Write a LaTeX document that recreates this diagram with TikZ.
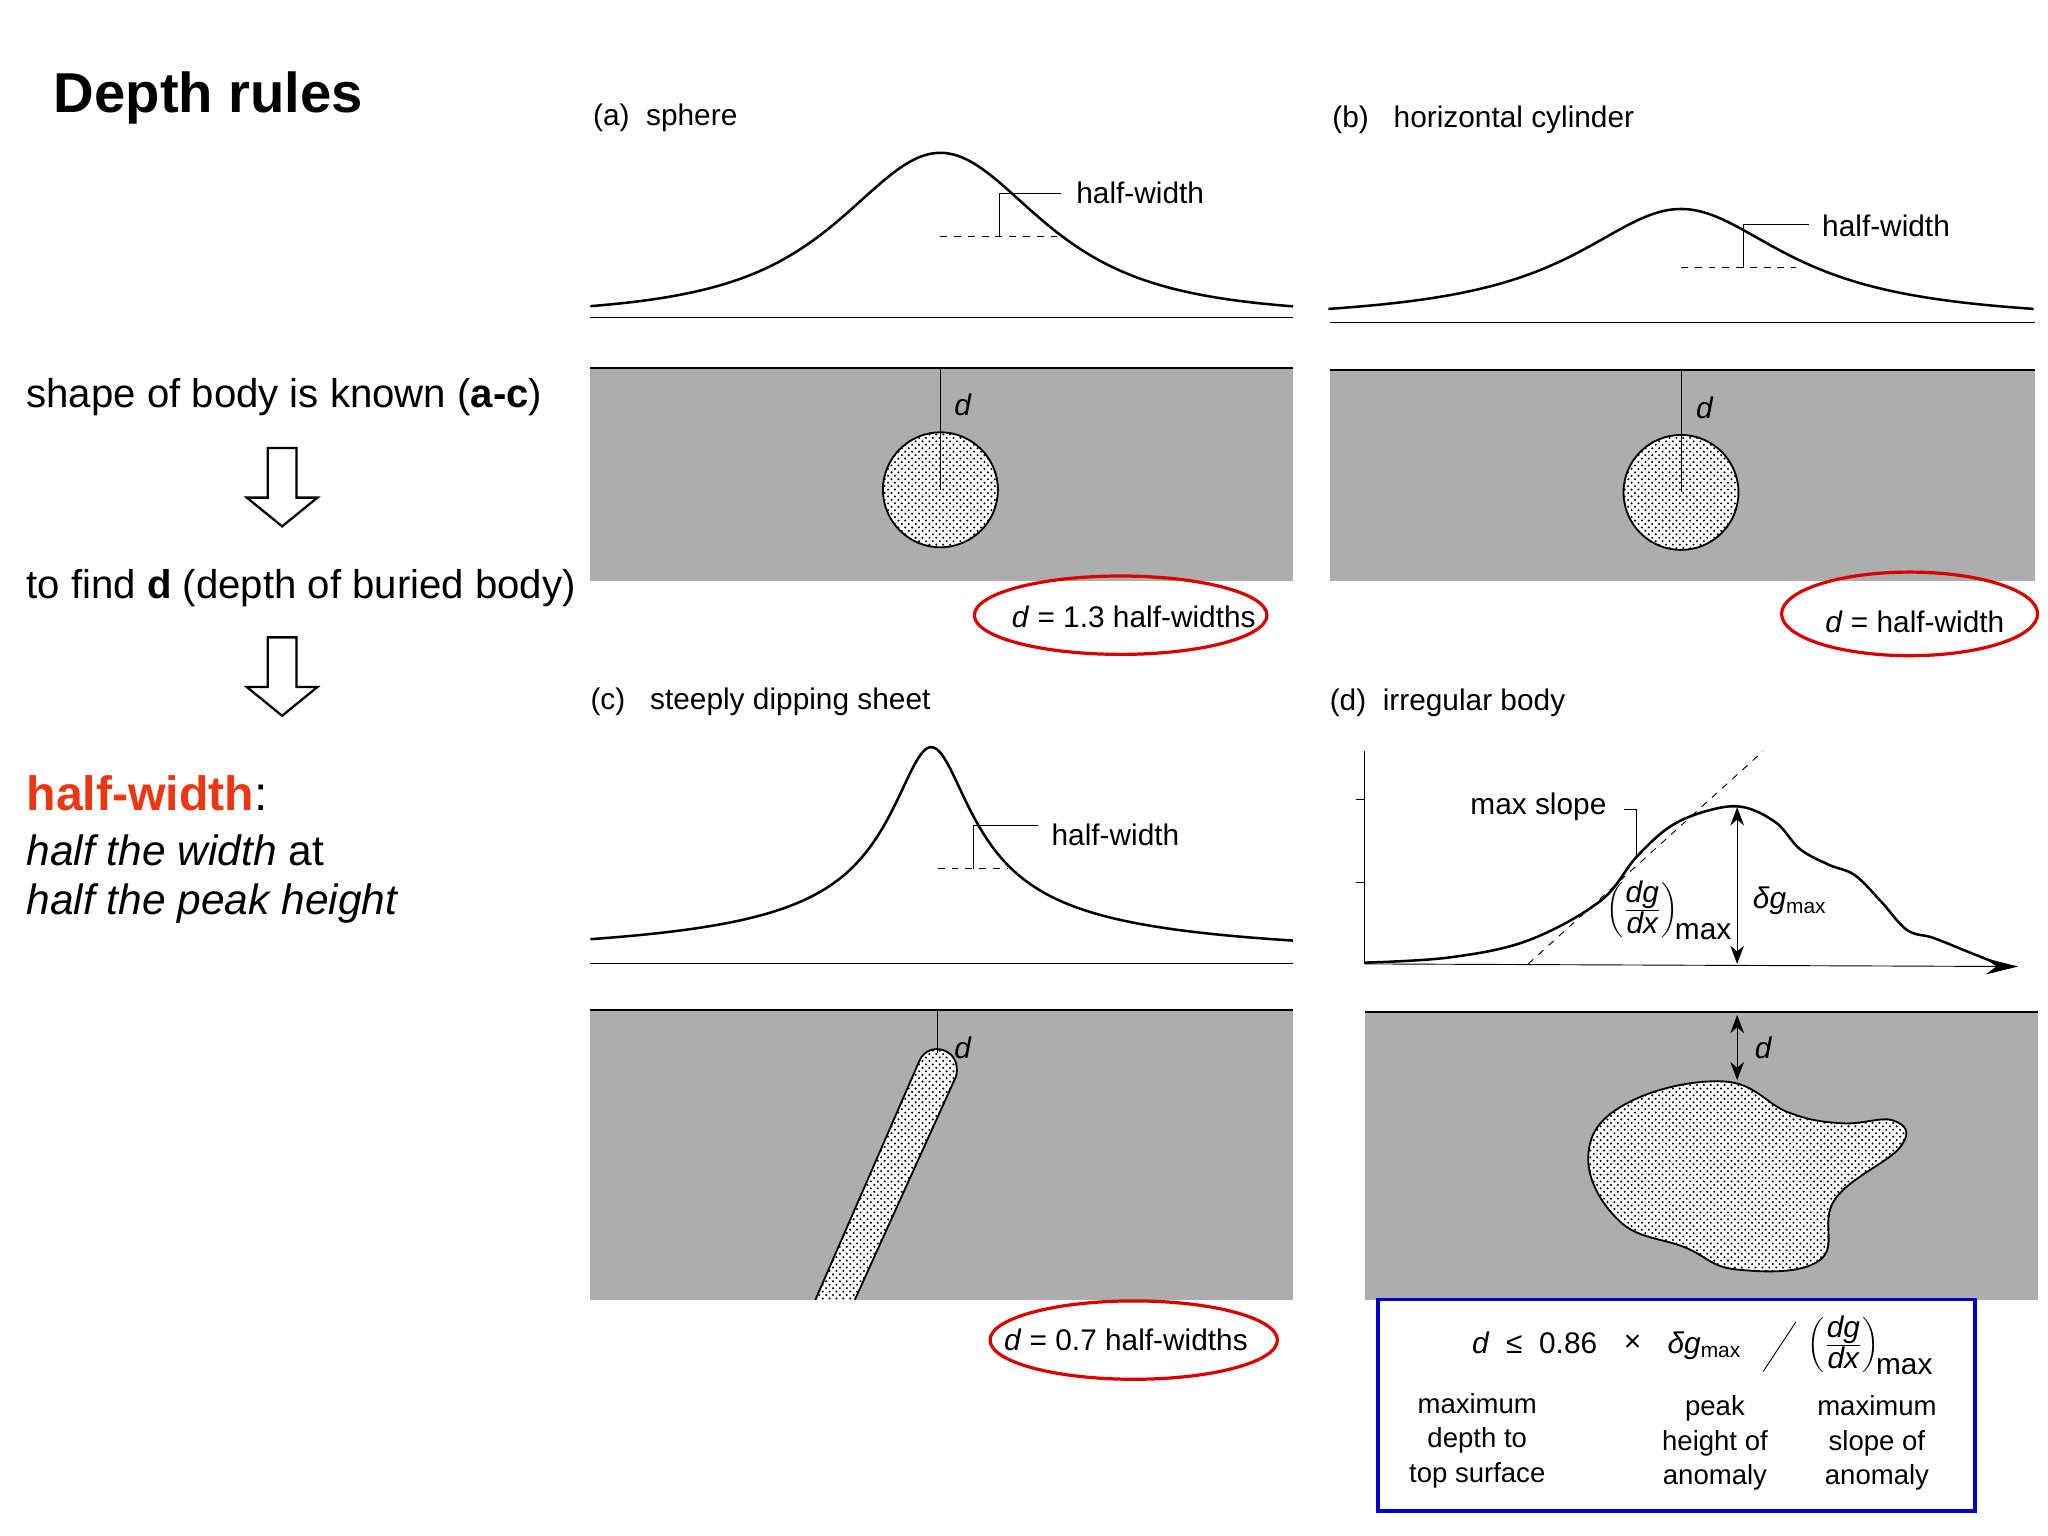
\documentclass[tikz,border=0pt]{standalone}
\usepackage{fontspec}
\setmainfont{Liberation Sans}
\usetikzlibrary{patterns,arrows.meta}
\definecolor{hwred}{RGB}{235,55,20}
\newcommand{\dgdx}{\ensuremath{\left(\frac{\textit{dg}}{\textit{dx}}\right)_{\!\textrm{max}}}}
\begin{document}
\begin{tikzpicture}[x=0.02cm,y=-0.02cm,
  lbl/.style={font=\fontsize{13}{15}\selectfont,inner sep=1pt},
  side/.style={font=\fontsize{17.5}{20}\selectfont,anchor=west,inner sep=0pt},
  ground/.style={fill=black!32,draw=none},
  body/.style={draw,thick,fill=white,postaction={pattern=crosshatch dots}},
  redell/.style={draw=red!85!black,line width=1.4pt},
  curve/.style={line width=1.1pt},
  hollow/.style={draw,line width=1pt,fill=white}]
\useasboundingbox (0,0) rectangle (1568,1176);
% left text
\node[anchor=west,font=\bfseries\fontsize{24.5}{28}\selectfont] (title) at (35,75) {Depth rules};
\node[side] (t1) at (20,304) {shape of body is known (\textbf{a-c})};
\node[side] (t2) at (20,450) {to find \textbf{d} (depth of buried body)};
\node[side,text=hwred,font=\bfseries\fontsize{21}{24}\selectfont] (t3) at (20,607) {half-width\textcolor{black}{\mdseries:}};
\node[side,font=\itshape\fontsize{18.5}{20}\selectfont] (t4) at (20,651) {half the width \textup{at}};
\node[side,font=\itshape\fontsize{18.5}{20}\selectfont] (t5) at (20,692) {half the peak height};
\foreach \y in {343,488}{
 \draw[hollow] (205,\y)--(227,\y)--(227,\y+38)--(243,\y+38)--(216,\y+60)--(189,\y+38)--(205,\y+38)--cycle;}
% ---------- panel a
\node[lbl,anchor=west] (la) at (452,90) {(a)\ \ sphere};
\draw[curve] plot[domain=-268:270,samples=120,smooth] ({720+\x},{243-126/(1+(\x/120)^2)^1.5});
\draw (452,243)--(990,243);
\fill[ground] (452,282) rectangle (990,445);
\draw[thick] (452,282)--(990,282);
\node[body,circle,minimum size=88*0.02cm] (ca) at (720,375) {};
\draw (720,282)--(ca.center);
\node[lbl,font=\itshape\fontsize{13}{15}\selectfont] (da) at (737,310) {d};
\draw[dashed] (720,181)--(815,181);
\draw (765,181)--(765,148)--(812,148);
\node[lbl,anchor=west] (ha) at (822,148) {half-width};
\draw[redell] (858,471) ellipse (112 and 30);
\node[lbl] (ra) at (868,472) {\textit{d} = 1.3 half-widths};
% ---------- panel b
\node[lbl,anchor=west] (lb) at (1018,92) {(b)\ \ \ horizontal cylinder};
\draw[curve] plot[domain=-270:270,samples=120,smooth] ({1287+\x},{247-87/(1+(\x/100)^2)});
\draw (1018,247)--(1558,247);
\fill[ground] (1018,283) rectangle (1558,445);
\draw[thick] (1018,283)--(1558,283);
\node[body,circle,minimum size=88*0.02cm] (cb) at (1287,377) {};
\draw (1287,283)--(cb.center);
\node[lbl,font=\itshape\fontsize{13}{15}\selectfont] (db) at (1305,312) {d};
\draw[dashed] (1287,205)--(1375,205);
\draw (1335,205)--(1335,172)--(1385,172);
\node[lbl,anchor=west] (hb) at (1393,173) {half-width};
\draw[redell] (1462,470) ellipse (98 and 32);
\node[lbl] (rb) at (1466,476) {\textit{d} = half-width};
% ---------- panel c
\node[lbl,anchor=west] (lc) at (450,537) {(c)\ \ \ steeply dipping sheet};
\draw[curve] plot[domain=-261:277,samples=200,smooth] ({713+\x},{738-166/(1+(\x/30)^2)^0.5});
\draw (452,738)--(990,738);
\fill[ground] (452,773) rectangle (990,995);
\draw[thick] (452,773)--(990,773);
\begin{scope}
\clip (452,773) rectangle (990,995);
\draw[body] (620,1005)--(704,812) .. controls (711,796) and (737,803) .. (732,824) -- (650,1005)--cycle;
\end{scope}
\coordinate (sc) at (718,806);
\draw (718,773)--(sc);
\node[lbl,font=\itshape\fontsize{13}{15}\selectfont] (dc) at (737,802) {d};
\draw[dashed] (718,665)--(772,665);
\draw (745,665)--(745,632)--(795,632);
\node[lbl,anchor=west] (hc) at (803,639) {half-width};
\draw[redell] (868,1026) ellipse (110 and 30);
\node[lbl] (rc) at (862,1026) {\textit{d} = 0.7 half-widths};
% ---------- panel d
\node[lbl,anchor=west] (ld) at (1016,538) {(d)\ \ irregular body};
\draw (1045,575)--(1045,738);
\draw (1038,612)--(1045,612) (1038,676)--(1045,676);
\draw[-{Stealth[length=14pt,width=7pt]}] (1045,738)--(1545,740);
\draw[curve] plot[smooth,tension=0.6] coordinates {(1045,737) (1110,733) (1170,720) (1225,690) (1253,656) (1280,632) (1310,620) (1335,618) (1360,630) (1378,650) (1400,662) (1420,670) (1440,690) (1460,712) (1480,718) (1505,728) (1530,738)};
\draw[dashed] (1170,738)--(1350,575);
\draw (1243,620)--(1253,620)--(1253,656);
\node[lbl,anchor=east] (ms) at (1232,618) {max slope};
\draw[{Stealth[length=8pt]}-{Stealth[length=8pt]}] (1330,618)--(1330,738);
\node[lbl] (sl) at (1278,697) {\dgdx};
\node[lbl,anchor=west] (gm) at (1340,690) {\textit{δg}\textsubscript{max}};
\fill[ground] (1045,775) rectangle (1560,995);
\draw[thick] (1045,775)--(1560,775);
\draw[body] plot[smooth cycle,tension=0.7] coordinates {(1320,828) (1370,852) (1410,860) (1450,858) (1455,878) (1405,918) (1393,965) (1330,972) (1290,955) (1240,935) (1216,885) (1245,845)};
\draw[{Stealth[length=8pt]}-{Stealth[length=8pt]}] (1330,777)--(1330,827);
\node[lbl,font=\itshape\fontsize{13}{15}\selectfont] (dd) at (1350,802) {d};
% blue box
\draw[blue!80!black,line width=1.6pt] (1055,995) rectangle (1512,1157);
\node[lbl] (f1) at (1175,1028) {\textit{d}\ \ ≤\ \ 0.86};
\node[lbl] (f2) at (1250,1028) {×};
\node[lbl] (f3) at (1305,1030) {\textit{δg}\textsubscript{max}};
\draw (1350,1050)--(1375,1012);
\node[lbl] (f4) at (1432,1030) {\dgdx};
\node[lbl,align=center,font=\fontsize{12}{15}\selectfont] (c1) at (1131,1103) {maximum\\depth to\\top surface};
\node[lbl,align=center,font=\fontsize{12}{15}\selectfont] (c2) at (1313,1105) {peak\\height of\\anomaly};
\node[lbl,align=center,font=\fontsize{12}{15}\selectfont] (c3) at (1437,1105) {maximum\\slope of\\anomaly};
\end{tikzpicture}
\end{document}
